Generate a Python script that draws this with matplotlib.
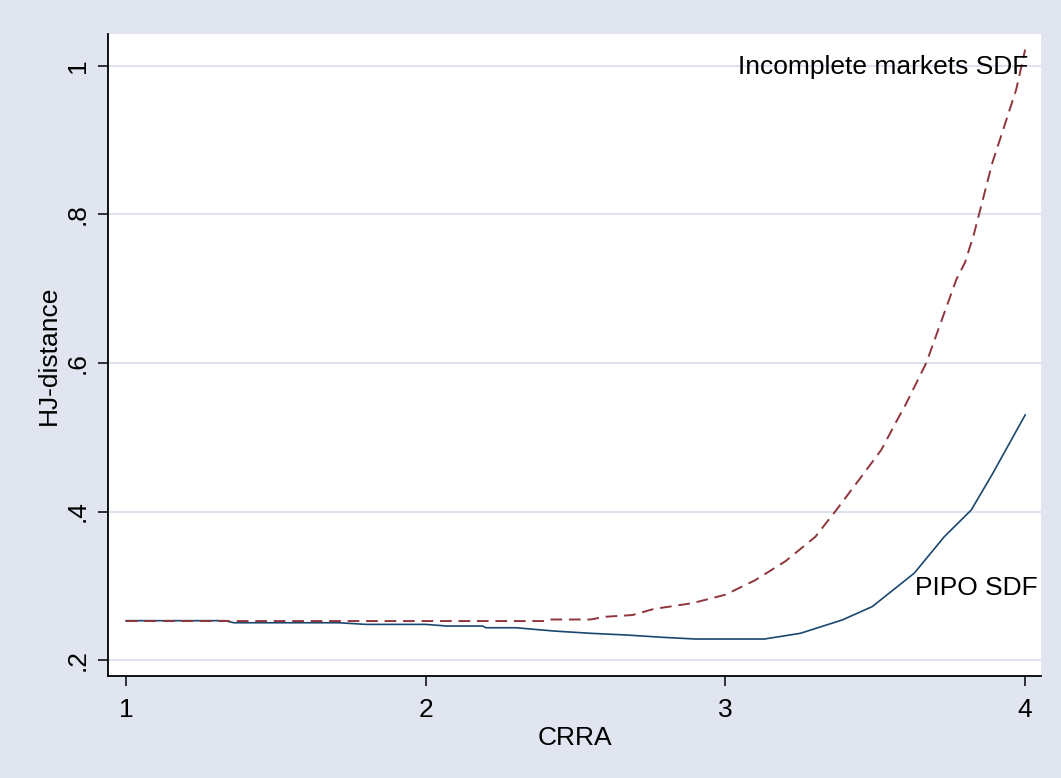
import numpy as np
import matplotlib.pyplot as plt

plt.rcParams['font.family'] = ['Liberation Sans', 'DejaVu Sans']

# HJ-distance against relative risk aversion for the two SDFs
crra_pipo = [1.0, 1.33, 1.36, 1.71, 1.80, 2.00, 2.07, 2.19, 2.20, 2.30, 2.43,
             2.55, 2.67, 2.79, 2.90, 3.13, 3.25, 3.39, 3.49, 3.63, 3.73, 3.82,
             3.89, 4.0]
hj_pipo = [0.253, 0.253, 0.2502, 0.2502, 0.248, 0.248, 0.2458, 0.2458, 0.2435,
           0.2435, 0.239, 0.236, 0.2337, 0.2306, 0.2283, 0.2283, 0.236, 0.254,
           0.272, 0.317, 0.366, 0.402, 0.450, 0.530]

crra_inc = [1.0, 2.40, 2.41, 2.55, 2.60, 2.69, 2.76, 2.89, 3.00, 3.10, 3.20,
            3.30, 3.37, 3.45, 3.52, 3.57, 3.60, 3.67, 3.77, 3.80, 3.83, 3.89,
            3.97, 4.0]
hj_inc = [0.2525, 0.2525, 0.2546, 0.2546, 0.2583, 0.2606, 0.2687, 0.2766,
          0.288, 0.3077, 0.333, 0.366, 0.402, 0.445, 0.483, 0.521, 0.543,
          0.600, 0.712, 0.736, 0.775, 0.869, 0.968, 1.022]

x_ticks = [1, 2, 3, 4]
y_ticks = [0.2, 0.4, 0.6, 0.8, 1.0]
y_ticklabels = ['.2', '.4', '.6', '.8', '1']

bg = '#e1e5f0'
navy = '#1a476f'
maroon = '#90353b'
fs = 19

fig = plt.figure(figsize=(10.61, 7.78), dpi=100, facecolor=bg)
ax = fig.add_axes([0.1018, 0.1311, 0.8794, 0.8252])
ax.set_facecolor('white')

ax.plot(crra_pipo, hj_pipo, color=navy, lw=1.2, zorder=3)
ax.plot(crra_inc, hj_inc, color=maroon, lw=1.4, dashes=(6, 3.5), zorder=3)

ax.set_xlim(0.94, 4.053)
ax.set_ylim(0.1785, 1.043)

ax.set_xticks(x_ticks)
ax.set_yticks(y_ticks)
ax.set_yticklabels(y_ticklabels, rotation=90, va='center')
ax.tick_params(axis='both', length=7, width=1.1, labelsize=fs, colors='black')
ax.tick_params(axis='x', pad=9)
ax.tick_params(axis='y', pad=6)

ax.grid(axis='y', color='#dde2ee', lw=1.5)
ax.set_axisbelow(True)

for side in ['top', 'right']:
    ax.spines[side].set_visible(False)
for side in ['left', 'bottom']:
    ax.spines[side].set_linewidth(1.3)

ax.set_xlabel('CRRA', fontsize=fs, labelpad=3)
ax.set_ylabel('HJ-distance', fontsize=fs, labelpad=4)

ax.text(4.01, 0.998, 'Incomplete markets SDF', fontsize=fs,
        ha='right', va='center')
ax.text(4.04, 0.297, 'PIPO SDF', fontsize=fs, ha='right', va='center')

fig.savefig('out.png', dpi=100, facecolor=bg)
